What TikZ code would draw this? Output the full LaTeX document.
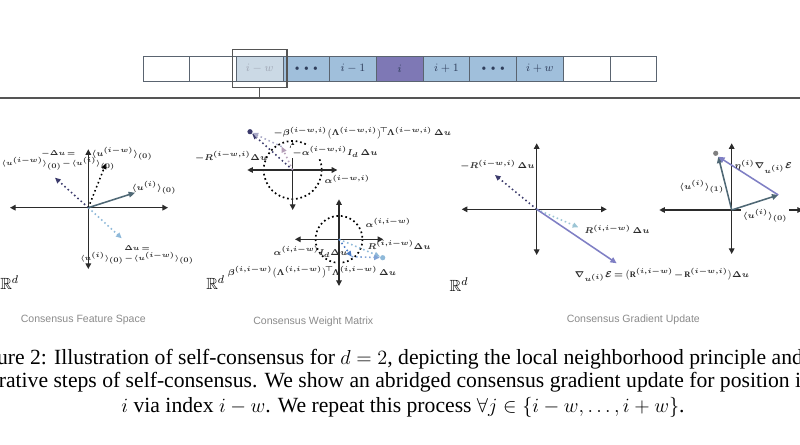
\documentclass[tikz,border=0pt]{standalone}
\usepackage{amsmath,amssymb}
\usepackage{fontspec}
\setmainfont{Liberation Serif}
\setsansfont{Liberation Sans}
\usetikzlibrary{arrows.meta,positioning}
\DeclareMathSizes{6}{6}{4}{3.2}
\DeclareMathSizes{5.2}{5.2}{3.6}{3}
\definecolor{axisgray}{HTML}{2B2B2B}
\definecolor{slate}{HTML}{4F6875}
\definecolor{navy}{HTML}{3B3A6B}
\definecolor{lightblue}{HTML}{8FB9D9}
\definecolor{paleteal}{HTML}{9CC5D5}
\definecolor{gradpurple}{HTML}{7F7FC4}
\definecolor{mauve}{HTML}{B59FB8}
\definecolor{lavgray}{HTML}{A9A9C6}
\definecolor{midblue}{HTML}{4A7BC4}
\definecolor{cellblue}{HTML}{A0BFDB}
\definecolor{cellpurple}{HTML}{7E78B5}
\definecolor{cellfade}{HTML}{CBD9E5}
\definecolor{cellline}{HTML}{5A6470}
\definecolor{celltext}{HTML}{2F3E5C}
\definecolor{titlegray}{HTML}{8A8A8A}
\definecolor{labeltext}{HTML}{2A2A2A}
\newcommand{\tightmu}{\medmuskip=1.5mu\relax\thickmuskip=3mu\relax}

\begin{document}
\begin{tikzpicture}[x=0.025cm, y=-0.025cm,
  cell/.style={draw=cellline, line width=0.5pt, minimum width=1.167cm, minimum height=0.625cm,
               outer sep=0pt, inner sep=0pt, font=\fontsize{8.5}{9}\selectfont, text=celltext},
  axisline/.style={{Triangle[length=4pt,width=4pt]}-{Triangle[length=4pt,width=4pt]},
                   line width=0.8pt, axisgray},
  vec/.style={-{Triangle[length=4.5pt,width=4pt]}, line width=1.1pt},
  dvec/.style={-{Triangle[length=4pt,width=3.6pt]}, line width=1.1pt, dotted},
  ring/.style={line width=1.2pt, dotted, black},
  lbl/.style={font=\fontsize{6}{7.5}\selectfont\boldmath\tightmu,
              text=labeltext, inner sep=1pt, align=center},
  smalllbl/.style={lbl, font=\fontsize{5.2}{7}\selectfont\boldmath\tightmu},
  rd/.style={font=\fontsize{11.5}{12}\selectfont, inner sep=0pt, anchor=west},
  paneltitle/.style={font=\sffamily\fontsize{7.5}{9}\selectfont, text=titlegray},
  capline/.style={font=\fontsize{15.4}{18}\selectfont, inner sep=0pt},
  dotmark/.style={circle, fill=#1, inner sep=0pt, minimum size=0.13cm}
]
  \useasboundingbox (0,0) rectangle (800,445);
  \clip (0,0) rectangle (800,445);

  % index strip
  \node[cell] (c1) at (166.3,68.5) {};
  \node[cell, right=0pt of c1] (c2) {};
  \node[cell, right=0pt of c2, fill=cellfade, text=celltext!45] (c3) {$i-w$};
  \node[cell, right=0pt of c3, fill=cellblue] (c4) {{\fontsize{5}{5}\selectfont$\bullet\,\bullet\,\bullet$}};
  \node[cell, right=0pt of c4, fill=cellblue] (c5) {$i-1$};
  \node[cell, right=0pt of c5, fill=cellpurple] (c6) {$i$};
  \node[cell, right=0pt of c6, fill=cellblue] (c7) {$i+1$};
  \node[cell, right=0pt of c7, fill=cellblue] (c8) {{\fontsize{5}{5}\selectfont$\bullet\,\bullet\,\bullet$}};
  \node[cell, right=0pt of c8, fill=cellblue] (c9) {$i+w$};
  \node[cell, right=0pt of c9] (c10) {};
  \node[cell, right=0pt of c10] (c11) {};
  \node[draw=axisgray!80, line width=0.8pt, minimum width=1.365cm, minimum height=0.94cm,
        inner sep=0pt] (win) at (c3.center) {};
  \coordinate (barL) at (0,98);
  \coordinate (barR) at (800,98);
  \draw[axisgray!80, line width=0.8pt] (barL) -- (barR);
  \draw[axisgray!80, line width=0.8pt] (win.south) -- (win.south |- barL);

  % consensus feature space
  \coordinate (o1) at (88.3,207.7);
  \coordinate (o1l) at (10,207.7);
  \coordinate (o1r) at (168,207.7);
  \coordinate (o1t) at (88.3,149.3);
  \coordinate (o1b) at (88.3,269);
  \draw[axisline] (o1l) -- (o1r);
  \draw[axisline] (o1t) -- (o1b);
  \coordinate (ui) at (135,192.7);
  \coordinate (uiw) at (106,163.3);
  \coordinate (mdu) at (55,177.7);
  \coordinate (du) at (121.7,238.3);
  \draw[dvec, navy] (o1) -- (mdu);
  \draw[dvec, black] (o1) -- (uiw);
  \draw[dvec, lightblue] (o1) -- (du);
  \draw[vec, slate] (o1) -- (ui);
  \node[lbl] (lui) at (154,188) {$\langle u^{(i)}\rangle_{(0)}$};
  \node[lbl] (luiw) at (122,154) {$\langle u^{(i-w)}\rangle_{(0)}$};
  \node[smalllbl, anchor=west] (lmdu) at (0,160) {$-\Delta u =$\\$\langle u^{(i-w)}\rangle_{(0)}-\langle u^{(i)}\rangle_{(0)}$};
  \node[smalllbl] (ldu) at (137,255) {$\Delta u =$\\$\langle u^{(i)}\rangle_{(0)}-\langle u^{(i-w)}\rangle_{(0)}$};
  \node[rd] (rd1) at (0,283) {$\mathbb{R}^d$};
  \node[paneltitle] (t1) at (83.3,320) {Consensus Feature Space};

  % consensus weight matrix, upper
  \coordinate (o2) at (292.7,170);
  \coordinate (o2l) at (247.3,170);
  \coordinate (o2r) at (337.3,170);
  \coordinate (o2t) at (292.7,142);
  \coordinate (o2b) at (292.7,210);
  \draw[ring] (o2) circle [radius=29];
  \draw[axisline] (o2l) -- (o2r);
  \draw[axisline] (o2t) -- (o2b);
  \coordinate (aI1) at (281.7,146.7);
  \node[dotmark=navy] (nR1) at (250,131.7) {};
  \draw[dvec, navy] (o2) -- (nR1);
  \draw[dvec, mauve] (o2) -- (aI1);
  \draw[dvec, lavgray] (aI1) -- (nR1);
  \node[lbl, anchor=west] (lb1) at (272,133) {$-\beta^{(i-w,i)}\big(\Lambda^{(i-w,i)}\big)^{\!\top}\!\Lambda^{(i-w,i)}\,\Delta u$};
  \node[lbl, anchor=east] (lR1) at (269,156.7) {$-R^{(i-w,i)}\Delta u$};
  \node[lbl, anchor=west, fill=white] (la1) at (291,151.7) {$-\alpha^{(i-w,i)}I_d\,\Delta u$};
  \node[lbl, anchor=west] (lal1) at (323,179.3) {$\alpha^{(i-w,i)}$};

  % consensus weight matrix, lower
  \coordinate (o3) at (339,239.3);
  \coordinate (o3l) at (295,239.3);
  \coordinate (o3r) at (383.3,239.3);
  \coordinate (o3t) at (339,199.3);
  \coordinate (o3b) at (339,286);
  \draw[ring] (o3) circle [radius=23.5];
  \draw[axisline] (o3l) -- (o3r);
  \draw[axisline] (o3t) -- (o3b);
  \coordinate (aI2) at (351.7,256.7);
  \node[dotmark=lightblue] (nR2) at (382.7,257.7) {};
  \draw[dvec, lightblue] (o3) -- (nR2);
  \draw[dvec, midblue] (o3) -- (aI2);
  \draw[dvec, midblue!70] (aI2) -- (nR2);
  \node[lbl, anchor=west] (lal2) at (364,222.7) {$\alpha^{(i,i-w)}$};
  \node[lbl, anchor=west] (lR2) at (366,245) {$R^{(i,i-w)}\Delta u$};
  \node[lbl, anchor=east] (la2) at (349,251.7) {$\alpha^{(i,i-w)}I_d\Delta u$};
  \node[lbl] (lb2) at (312,272.3) {$\beta^{(i,i-w)}\big(\Lambda^{(i,i-w)}\big)^{\!\top}\!\Lambda^{(i,i-w)}\,\Delta u$};
  \node[rd] (rd2) at (206,283) {$\mathbb{R}^d$};
  \node[paneltitle] (t2) at (313.3,321.7) {Consensus Weight Matrix};

  % consensus gradient update
  \coordinate (o4) at (536.7,209.3);
  \coordinate (o4l) at (461.7,209.3);
  \coordinate (o4r) at (606.7,209.3);
  \coordinate (o4t) at (536.7,143.3);
  \coordinate (o4b) at (536.7,255);
  \draw[axisline] (o4l) -- (o4r);
  \draw[axisline] (o4t) -- (o4b);
  \coordinate (mR) at (495,175);
  \coordinate (pR) at (578.3,227.3);
  \coordinate (grad) at (616.7,263.3);
  \draw[dvec, navy] (o4) -- (mR);
  \draw[dvec, paleteal] (o4) -- (pR);
  \draw[vec, gradpurple] (o4) -- (grad);
  \node[lbl] (lmR) at (497.5,165) {$-R^{(i-w,i)}\,\Delta u$};
  \node[lbl, anchor=west] (lpR) at (583,229.3) {$R^{(i,i-w)}\,\Delta u$};
  \node[lbl, anchor=west] (lgrad) at (573,275) {$\nabla_{u^{(i)}}\mathcal{E}=\big(\mathrm{R}^{(i,i-w)}-\mathrm{R}^{(i-w,i)}\big)\Delta u$};
  \node[rd] (rd3) at (449.3,285) {$\mathbb{R}^d$};

  \coordinate (o5) at (731.7,210);
  \coordinate (o5l) at (659.3,210);
  \coordinate (o5r) at (803,210);
  \coordinate (o5t) at (731.7,143.3);
  \coordinate (o5b) at (731.7,254);
  \draw[axisline] (o5l) -- (o5r);
  \draw[axisline] (o5t) -- (o5b);
  \coordinate (u0) at (778.3,195);
  \coordinate (u1) at (718.3,156.7);
  \node[dotmark=gray] (nU1) at (715.7,153.3) {};
  \draw[vec, slate] (o5) -- (u0);
  \draw[vec, slate] (o5) -- (u1);
  \draw[vec, gradpurple] (u0) -- (u1);
  \node[lbl] (leta) at (763.3,166.7) {$\eta^{(i)}\nabla_{u^{(i)}}\mathcal{E}$};
  \node[lbl] (lu1) at (701.7,186.7) {$\langle u^{(i)}\rangle_{(1)}$};
  \node[lbl, fill=white] (lu0) at (765,216) {$\langle u^{(i)}\rangle_{(0)}$};
  \node[paneltitle] (t3) at (633.3,320) {Consensus Gradient Update};

  % figure caption
  \node[capline] (cap1) at (400,359.3) {ure 2: Illustration of self-consensus for $d=2$, depicting the local neighborhood principle and};
  \node[capline] (cap2) at (400,382.7) {rative steps of self-consensus. We show an abridged consensus gradient update for position i};
  \node[capline] (cap3) at (403,407.3) {$i$ via index $i-w$. We repeat this process $\forall j\in\{i-w,\ldots,i+w\}$.};
\end{tikzpicture}
\end{document}
